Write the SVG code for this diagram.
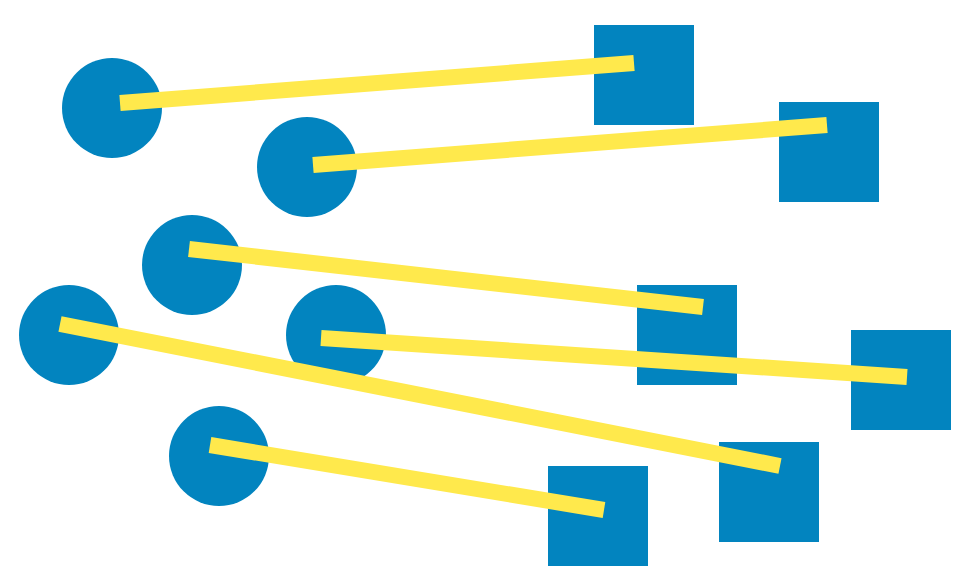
<svg xmlns="http://www.w3.org/2000/svg" width="973" height="588" viewBox="0 0 973 588">
<style>
.n{fill:#0284bf}
.e{stroke:#ffe94c;stroke-width:16;stroke-linecap:butt;fill:none}
</style>
<rect width="973" height="588" fill="#ffffff"/>
<g id="c1"><circle class="n" cx="112" cy="108" r="50"/></g>
<g id="c2"><circle class="n" cx="307" cy="167" r="50"/></g>
<g id="c3"><circle class="n" cx="192" cy="265" r="50"/></g>
<g id="c4"><circle class="n" cx="69" cy="335" r="50"/></g>
<g id="c5"><circle class="n" cx="336" cy="335" r="50"/></g>
<g id="c6"><circle class="n" cx="219" cy="456" r="50"/></g>
<g id="s1"><rect class="n" x="594" y="25" width="100" height="100"/></g>
<g id="s2"><rect class="n" x="779" y="102" width="100" height="100"/></g>
<g id="s3"><rect class="n" x="637" y="285" width="100" height="100"/></g>
<g id="s4"><rect class="n" x="851" y="330" width="100" height="100"/></g>
<g id="s5"><rect class="n" x="719" y="442" width="100" height="100"/></g>
<g id="s6"><rect class="n" x="548" y="466" width="100" height="100"/></g>
<g id="connectors">
<line class="e" x1="120" y1="103" x2="634" y2="63"/>
<line class="e" x1="313" y1="165" x2="827" y2="125"/>
<line class="e" x1="189" y1="249" x2="703" y2="307"/>
<line class="e" x1="60" y1="324" x2="780" y2="466"/>
<line class="e" x1="321" y1="338" x2="907" y2="377"/>
<line class="e" x1="210" y1="445" x2="604" y2="510"/>
</g>
</svg>
